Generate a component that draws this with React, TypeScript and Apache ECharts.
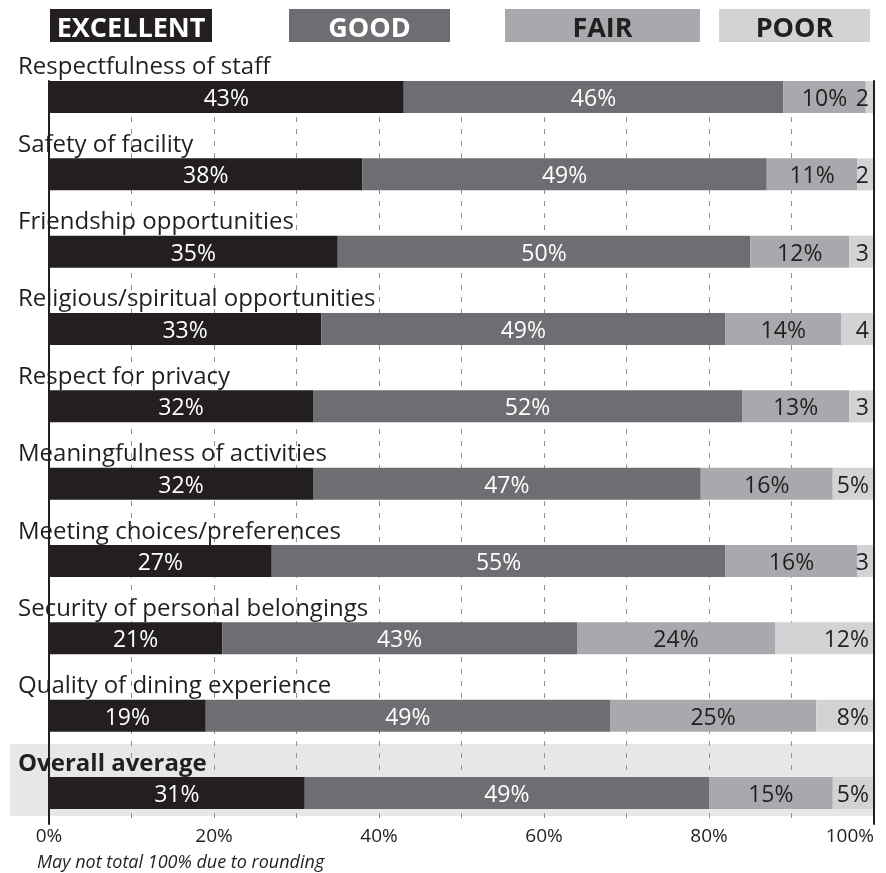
import React, { useEffect, useRef } from "react";
import * as echarts from "echarts";

const CATEGORIES = [
  "Respectfulness of staff",
  "Safety of facility",
  "Friendship opportunities",
  "Religious/spiritual opportunities",
  "Respect for privacy",
  "Meaningfulness of activities",
  "Meeting choices/preferences",
  "Security of personal belongings",
  "Quality of dining experience",
  "Overall average",
];
const EXCELLENT = [43, 38, 35, 33, 32, 32, 27, 21, 19, 31];
const GOOD = [46, 49, 50, 49, 52, 47, 55, 43, 49, 49];
const FAIR = [10, 11, 12, 14, 13, 16, 16, 24, 25, 15];
const POOR = [2, 2, 3, 4, 3, 5, 3, 12, 8, 5];
const SERIES_NAMES = ["EXCELLENT", "GOOD", "FAIR", "POOR"];
const SERIES_DATA = [EXCELLENT, GOOD, FAIR, POOR];
const X_TICK_LABELS = ["0%", "20%", "40%", "60%", "80%", "100%"];
const FOOTNOTE = "May not total 100% due to rounding";
const HIGHLIGHT = "Overall average";

// styles
const COLORS = ["#231f20", "#6d6e71", "#a7a9ac", "#d1d3d4"];
const LABEL_COLORS = ["#ffffff", "#ffffff", "#231f20", "#231f20"];
const LABEL_POS = ["inside", "inside", "inside", "insideRight"];
const LEGEND_BOXES = [
  { x: 50, w: 162 },
  { x: 289, w: 161 },
  { x: 505, w: 195 },
  { x: 719, w: 151 },
];
const FONT = "'Open Sans', 'DejaVu Sans', sans-serif";
const INK = "#231f20";

export default function App() {
  const ref = useRef<HTMLDivElement>(null);
  useEffect(() => {
    if (!ref.current) return;
    const chart = echarts.init(ref.current, null, { renderer: "svg" });

    const legendGraphics: any[] = [];
    SERIES_NAMES.forEach((name, i) => {
      const b = LEGEND_BOXES[i];
      legendGraphics.push({
        type: "rect",
        shape: { x: b.x, y: 9, width: b.w, height: 33 },
        style: { fill: COLORS[i] },
      });
      legendGraphics.push({
        type: "text",
        x: b.x + b.w / 2,
        y: 26,
        style: {
          text: name,
          fill: LABEL_COLORS[i],
          font: `bold 27px ${FONT}`,
          textAlign: "center",
          textVerticalAlign: "middle",
        },
      });
    });

    const option: any = {
      animation: false,
      textStyle: { fontFamily: FONT, color: INK },
      title: {
        text: FOOTNOTE,
        left: 37,
        top: 851.5,
        padding: 0,
        textStyle: {
          fontFamily: FONT,
          fontSize: 18,
          lineHeight: 18,
          fontStyle: "italic",
          fontWeight: "normal",
          color: INK,
        },
      },
      graphic: [
        {
          type: "rect",
          z: -5,
          shape: { x: 10, y: 744, width: 864, height: 72 },
          style: { fill: "#e6e7e8" },
        },
        ...legendGraphics,
      ],
      grid: [
        { left: 49, right: 12, top: 81, bottom: 49 },
        { left: 49, right: 12, top: 58.33, bottom: 41.33 },
      ],
      xAxis: [
        {
          gridIndex: 0,
          type: "value",
          min: 0,
          max: 100,
          interval: 10,
          axisLine: { show: false },
          axisTick: { show: false },
          splitLine: {
            show: true,
            lineStyle: { color: "#8f9194", width: 1, type: [5, 7] },
          },
          axisLabel: {
            margin: 1.5,
            fontSize: 19,
            lineHeight: 19,
            fontFamily: FONT,
            color: INK,
            alignMaxLabel: "right",
            formatter: (v: number) =>
              v % 20 === 0 ? X_TICK_LABELS[v / 20] : "",
          },
        },
        {
          gridIndex: 1,
          type: "value",
          min: 0,
          max: 100,
          show: false,
        },
      ],
      yAxis: [
        {
          gridIndex: 0,
          type: "value",
          min: 0,
          max: 1,
          position: "left",
          z: 5,
          axisLine: { show: true, lineStyle: { color: INK, width: 2 } },
          axisTick: { show: false },
          axisLabel: { show: false },
          splitLine: { show: false },
        },
        {
          gridIndex: 0,
          type: "value",
          min: 0,
          max: 1,
          position: "right",
          z: 5,
          axisLine: { show: true, lineStyle: { color: INK, width: 2 } },
          axisTick: { show: false },
          axisLabel: { show: false },
          splitLine: { show: false },
        },
        {
          gridIndex: 1,
          type: "category",
          inverse: true,
          data: CATEGORIES,
          axisLine: { show: false },
          axisTick: { show: false },
          splitLine: { show: false },
          axisLabel: {
            margin: 31,
            align: "left",
            verticalAlign: "bottom",
            fontSize: 24,
            lineHeight: 24,
            padding: [0, 0, 20, 0],
            fontFamily: FONT,
            color: INK,
            formatter: (v: string) => (v === HIGHLIGHT ? `{b|${v}}` : v),
            rich: {
              b: {
                fontWeight: "bold",
                fontSize: 24,
                lineHeight: 24,
                fontFamily: FONT,
                color: INK,
              },
            },
          },
        },
      ],
      series: SERIES_NAMES.map((name, i) => ({
        name,
        type: "bar",
        stack: "total",
        xAxisIndex: 1,
        yAxisIndex: 2,
        barWidth: 32,
        data: SERIES_DATA[i],
        itemStyle: { color: COLORS[i] },
        label: {
          show: true,
          position: LABEL_POS[i],
          distance: 5,
          color: LABEL_COLORS[i],
          fontSize: 23,
          fontFamily: FONT,
          formatter: (p: any) => (p.value < 5 ? `${p.value}` : `${p.value}%`),
        },
      })),
    };

    chart.setOption(option);
    return () => chart.dispose();
  }, []);

  return (
    <div
      ref={ref}
      style={{ position: "fixed", left: 0, top: 0, width: 886, height: 873 }}
    />
  );
}
